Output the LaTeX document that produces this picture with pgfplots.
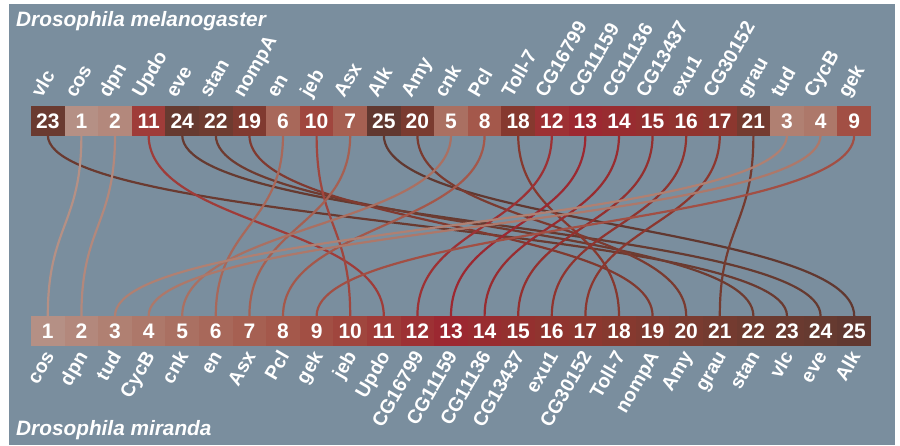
\documentclass[border=0pt]{standalone}
\usepackage{pgfplots}
\pgfplotsset{compat=1.18}
\usepackage{fontspec}
\setmainfont{Liberation Sans}
\definecolor{bg}{HTML}{7A8E9E}
\definecolor{c1}{HTML}{B59085}
\definecolor{c2}{HTML}{B3887C}
\definecolor{c3}{HTML}{B08072}
\definecolor{c4}{HTML}{AD786A}
\definecolor{c5}{HTML}{AA7062}
\definecolor{c6}{HTML}{A8685A}
\definecolor{c7}{HTML}{A66052}
\definecolor{c8}{HTML}{A4584B}
\definecolor{c9}{HTML}{A24F44}
\definecolor{c10}{HTML}{A0463E}
\definecolor{c11}{HTML}{9F3C39}
\definecolor{c12}{HTML}{9D3134}
\definecolor{c13}{HTML}{9C2831}
\definecolor{c14}{HTML}{982C30}
\definecolor{c15}{HTML}{94302F}
\definecolor{c16}{HTML}{90342F}
\definecolor{c17}{HTML}{8C372F}
\definecolor{c18}{HTML}{86392F}
\definecolor{c19}{HTML}{803A30}
\definecolor{c20}{HTML}{7A3B30}
\definecolor{c21}{HTML}{743B30}
\definecolor{c22}{HTML}{6E3B30}
\definecolor{c23}{HTML}{6A3A30}
\definecolor{c24}{HTML}{663A30}
\definecolor{c25}{HTML}{613830}
% top position, number (= bottom position)
\newcommand\link[2]{%
  \draw[c#2, line width=2.2pt] (axis cs:{14.2+33.6*#1},135) .. controls (axis cs:{14.2+33.6*#1},225.5) and (axis cs:{14.2+33.6*#2},225.5) .. (axis cs:{14.2+33.6*#2},316);}
% top position, gene, number
\newcommand\topbox[3]{%
  \fill[c#3] (axis cs:{31+33.6*(#1-1)},106) rectangle (axis cs:{31.4+33.6*#1},135.5);
  \node[text=white, font=\bfseries\fontsize{21}{24}\selectfont] at (axis cs:{14.2+33.6*#1},121) {#3};
  \node[text=white, rotate=60, anchor=base west, inner sep=0pt, font=\bfseries\fontsize{19.5}{22}\selectfont] at (axis cs:{8.2+33.6*#1},99) {#2};}
% bottom position (= number), gene
\newcommand\botbox[2]{%
  \fill[c#1] (axis cs:{31+33.6*(#1-1)},316) rectangle (axis cs:{31.4+33.6*#1},346);
  \node[text=white, font=\bfseries\fontsize{21}{24}\selectfont] at (axis cs:{14.2+33.6*#1},331) {#1};
  \node[text=white, rotate=60, anchor=base east, inner sep=0pt, font=\bfseries\fontsize{19.5}{22}\selectfont] at (axis cs:{21.2+33.6*#1},356) {#2};}
\begin{document}
\begin{tikzpicture}
\begin{axis}[width=900pt, height=445pt, scale only axis, xmin=0, xmax=900, ymin=0, ymax=445,
  y dir=reverse, hide axis, clip=false]
\fill[white] (axis cs:0,0) rectangle (axis cs:900,445);
\fill[bg] (axis cs:9,4) rectangle (axis cs:895,445);
\link{1}{23}\link{2}{1}\link{3}{2}\link{4}{11}\link{5}{24}
\link{6}{22}\link{7}{19}\link{8}{6}\link{9}{10}\link{10}{7}
\link{11}{25}\link{12}{20}\link{13}{5}\link{14}{8}\link{15}{18}
\link{16}{12}\link{17}{13}\link{18}{14}\link{19}{15}\link{20}{16}
\link{21}{17}\link{22}{21}\link{23}{3}\link{24}{4}\link{25}{9}
\topbox{1}{vlc}{23}\topbox{2}{cos}{1}\topbox{3}{dpn}{2}\topbox{4}{Updo}{11}
\topbox{5}{eve}{24}\topbox{6}{stan}{22}\topbox{7}{nompA}{19}\topbox{8}{en}{6}
\topbox{9}{jeb}{10}\topbox{10}{Asx}{7}\topbox{11}{Alk}{25}\topbox{12}{Amy}{20}
\topbox{13}{cnk}{5}\topbox{14}{Pcl}{8}\topbox{15}{Toll-7}{18}\topbox{16}{CG16799}{12}
\topbox{17}{CG11159}{13}\topbox{18}{CG11136}{14}\topbox{19}{CG13437}{15}\topbox{20}{exu1}{16}
\topbox{21}{CG30152}{17}\topbox{22}{grau}{21}\topbox{23}{tud}{3}\topbox{24}{CycB}{4}
\topbox{25}{gek}{9}
\botbox{1}{cos}\botbox{2}{dpn}\botbox{3}{tud}\botbox{4}{CycB}\botbox{5}{cnk}
\botbox{6}{en}\botbox{7}{Asx}\botbox{8}{Pcl}\botbox{9}{gek}\botbox{10}{jeb}
\botbox{11}{Updo}\botbox{12}{CG16799}\botbox{13}{CG11159}\botbox{14}{CG11136}\botbox{15}{CG13437}
\botbox{16}{exu1}\botbox{17}{CG30152}\botbox{18}{Toll-7}\botbox{19}{nompA}\botbox{20}{Amy}
\botbox{21}{grau}\botbox{22}{stan}\botbox{23}{vlc}\botbox{24}{eve}\botbox{25}{Alk}
\node[anchor=base west, inner sep=0pt, text=white, font=\bfseries\itshape\fontsize{20.8}{24}\selectfont] at (axis cs:16,26) {Drosophila melanogaster};
\node[anchor=base west, inner sep=0pt, text=white, font=\bfseries\itshape\fontsize{20.8}{24}\selectfont] at (axis cs:16,435) {Drosophila miranda};
\end{axis}
\end{tikzpicture}
\end{document}
